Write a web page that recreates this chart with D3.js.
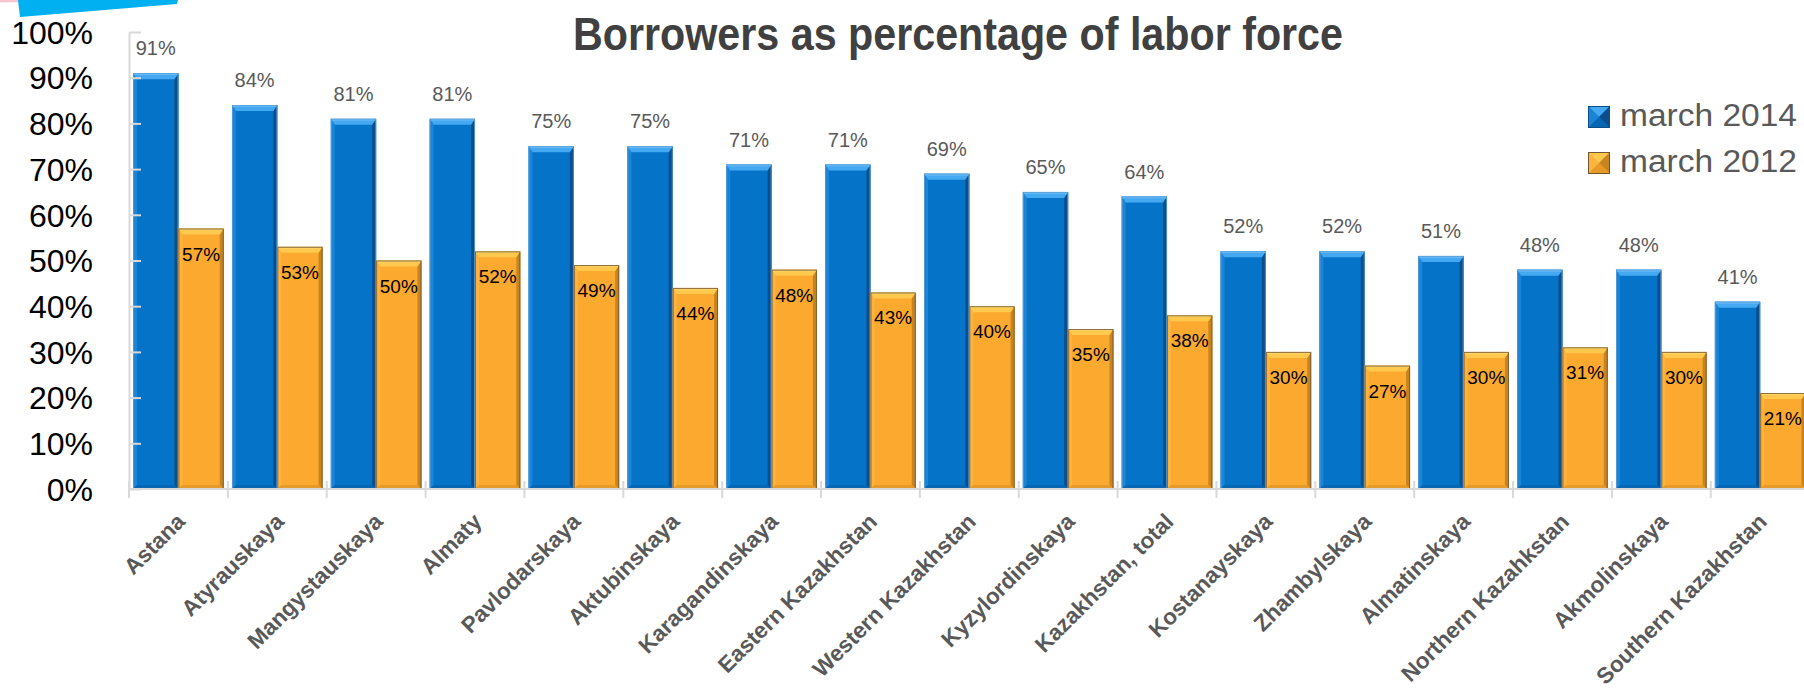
<!DOCTYPE html>
<html>
<head>
<meta charset="utf-8">
<script src="https://cdn.jsdelivr.net/npm/d3@7"></script>
<style>
  html, body { margin: 0; padding: 0; background: #fff; }
  svg { display: block; }
</style>
</head>
<body>
<svg id="chart" width="1804" height="688"></svg>
<script>
// Regions of Kazakhstan, ordered by the 2014 share
const categories = [
  "Astana", "Atyrauskaya", "Mangystauskaya", "Almaty", "Pavlodarskaya",
  "Aktubinskaya", "Karagandinskaya", "Eastern Kazakhstan", "Western Kazakhstan",
  "Kyzylordinskaya", "Kazakhstan, total", "Kostanayskaya", "Zhambylskaya",
  "Almatinskaya", "Northern Kazahkstan", "Akmolinskaya", "Southern Kazakhstan"
];
const seriesNames = ["march 2014", "march 2012"];
// Borrowers as a share of the labor force, in percent
const march2014 = [91, 84, 81, 81, 75, 75, 71, 71, 69, 65, 64, 52, 52, 51, 48, 48, 41];
const march2012 = [57, 53, 50, 52, 49, 44, 48, 43, 40, 35, 38, 30, 27, 30, 31, 30, 21];
const yTicks = [0, 10, 20, 30, 40, 50, 60, 70, 80, 90, 100];

const svg = d3.select("#chart");

// Plot frame
const plotLeft = 129, plotTop = 32, plotBottom = 489;
const step = 98.86;
const x0 = d3.scaleBand()
  .domain(categories)
  .range([plotLeft, plotLeft + step * categories.length])
  .paddingInner(0).paddingOuter(0);
const x1 = d3.scaleBand()
  .domain(seriesNames)
  .range([0, x0.bandwidth()])
  .paddingInner(0).paddingOuter(0.091);
const y = d3.scaleLinear().domain([0, 100]).range([plotBottom, plotTop]);

// Bevelled bar styles
const styles = {
  "march 2014": {
    face: "#0573C8", top: "#45A9F2", topEdge: "#6CC0FA", leftSide: "#1A84D6",
    rightSide: "#0A4F8C", bottomSide: "#0866B3", stroke: "#5E9ED6"
  },
  "march 2012": {
    face: "#FBA92F", top: "#FFC94E", topEdge: "#FFD770", leftSide: "#FDB43E",
    rightSide: "#C98422", bottomSide: "#E59A2A", stroke: "#6E5535"
  }
};

// Top-left decorative ribbon
svg.append("polygon")
  .attr("points", "0,0 55,0 55,1.5 0,2.5")
  .attr("fill", "#F7C6D0");
svg.append("polygon")
  .attr("points", "18,0 178,0 177,4 20,17")
  .attr("fill", "#00B0F0");

const rows = categories.map((c, i) => ({
  category: c,
  values: [
    { series: seriesNames[0], value: march2014[i] },
    { series: seriesNames[1], value: march2012[i] }
  ]
}));

function drawBevelBar(g, x, yTop, w, h, st) {
  const bt = Math.min(6, h / 2), bs = 4;
  g.append("rect").attr("x", x).attr("y", yTop).attr("width", w).attr("height", h)
    .attr("fill", st.face);
  // left edge
  g.append("polygon")
    .attr("points", [[x, yTop], [x + bs, yTop + bt], [x + bs, yTop + h - bs], [x, yTop + h]].join(" "))
    .attr("fill", st.leftSide);
  // right edge
  g.append("polygon")
    .attr("points", [[x + w, yTop], [x + w, yTop + h], [x + w - bs, yTop + h - bs], [x + w - bs, yTop + bt]].join(" "))
    .attr("fill", st.rightSide);
  // bottom edge
  g.append("polygon")
    .attr("points", [[x, yTop + h], [x + bs, yTop + h - bs], [x + w - bs, yTop + h - bs], [x + w, yTop + h]].join(" "))
    .attr("fill", st.bottomSide);
  // top bevel
  g.append("polygon")
    .attr("points", [[x, yTop], [x + w, yTop], [x + w - bs, yTop + bt], [x + bs, yTop + bt]].join(" "))
    .attr("fill", st.top);
  g.append("line")
    .attr("x1", x + 1).attr("x2", x + w - 1).attr("y1", yTop + 1).attr("y2", yTop + 1)
    .attr("stroke", st.topEdge).attr("stroke-width", 1.5);
  // outline
  g.append("rect").attr("x", x + 0.5).attr("y", yTop + 0.5).attr("width", w - 1).attr("height", h - 1)
    .attr("fill", "none").attr("stroke", st.stroke).attr("stroke-width", 1).attr("stroke-opacity", 0.8);
}

// Bars
const groups = svg.append("g").selectAll("g.cat")
  .data(rows).join("g").attr("class", "cat")
  .attr("transform", d => `translate(${x0(d.category)},0)`);

groups.each(function(d) {
  const g = d3.select(this);
  d.values.forEach(v => {
    const bx = x1(v.series);
    const yt = y(v.value);
    drawBevelBar(g.append("g"), bx, yt, x1.bandwidth(), plotBottom - yt, styles[v.series]);
  });
});

// Y axis: ticks point into the plot, labels on the left
const yAxis = d3.axisLeft(y)
  .tickValues(yTicks)
  .tickFormat(d => d + "%")
  .tickSizeInner(-12)
  .tickSizeOuter(0)
  .tickPadding(36);
const yg = svg.append("g").attr("transform", `translate(${plotLeft},0)`).call(yAxis);
yg.select(".domain").attr("stroke", "#D9D9D9").attr("stroke-width", 2);
yg.selectAll(".tick line").attr("stroke", "#D9D9D9").attr("stroke-width", 2);
yg.selectAll(".tick text")
  .attr("font-family", "'Liberation Sans', Arial, sans-serif")
  .attr("font-size", 32).attr("fill", "#000").attr("dy", "0.35em");

// X axis line with tick marks at category boundaries
const xg = svg.append("g");
xg.append("line")
  .attr("x1", plotLeft).attr("x2", x0.range()[1]).attr("y1", plotBottom).attr("y2", plotBottom)
  .attr("stroke", "#D9D9D9").attr("stroke-width", 2);
xg.selectAll("line.xt")
  .data(categories).join("line").attr("class", "xt")
  .attr("x1", d => x0(d)).attr("x2", d => x0(d))
  .attr("y1", plotBottom - 8).attr("y2", plotBottom + 9)
  .attr("stroke", "#D9D9D9").attr("stroke-width", 2);

// Category labels, rotated
xg.selectAll("text.cat")
  .data(categories).join("text").attr("class", "cat")
  .attr("transform", d => `translate(${x0(d) + x0.bandwidth() / 2 + 8},${plotBottom + 34}) rotate(-45)`)
  .attr("text-anchor", "end")
  .attr("font-family", "'Liberation Sans', Arial, sans-serif")
  .attr("font-weight", "bold")
  .attr("font-size", 22.5)
  .attr("fill", "#595959")
  .text(d => d);

// Value labels: 2014 above the bar, 2012 inside the top of the bar
groups.each(function(d) {
  const g = d3.select(this);
  const v14 = d.values[0], v12 = d.values[1];
  g.append("text")
    .attr("x", x1(v14.series) + x1.bandwidth() / 2)
    .attr("y", y(v14.value) - 18)
    .attr("text-anchor", "middle")
    .attr("font-family", "'Liberation Sans', Arial, sans-serif")
    .attr("font-size", 20).attr("fill", "#595959")
    .text(v14.value + "%");
  g.append("text")
    .attr("x", x1(v12.series) + x1.bandwidth() / 2)
    .attr("y", y(v12.value) + 32)
    .attr("text-anchor", "middle")
    .attr("font-family", "'Liberation Sans', Arial, sans-serif")
    .attr("font-size", 19).attr("fill", "#000")
    .text(v12.value + "%");
});

// Title
svg.append("text")
  .attr("x", 958).attr("y", 50)
  .attr("text-anchor", "middle")
  .attr("font-family", "'Liberation Sans Narrow', 'Liberation Sans', Arial, sans-serif")
  .attr("font-weight", "bold")
  .attr("font-size", 46)
  .attr("fill", "#404040")
  .attr("textLength", 770)
  .attr("lengthAdjust", "spacingAndGlyphs")
  .text("Borrowers as percentage of labor force");

// Legend
const legend = svg.append("g").attr("transform", "translate(1588,106)");
seriesNames.forEach((s, i) => {
  const st = styles[s];
  const g = legend.append("g").attr("transform", `translate(0,${i * 46})`);
  const w = 22, c = w / 2;
  g.append("rect").attr("width", w).attr("height", w).attr("fill", st.face);
  g.append("polygon").attr("points", `0,0 ${w},0 ${c},${c}`).attr("fill", st.top);
  g.append("polygon").attr("points", `0,0 ${c},${c} 0,${w}`).attr("fill", st.leftSide);
  g.append("polygon").attr("points", `${w},0 ${w},${w} ${c},${c}`).attr("fill", st.rightSide);
  g.append("polygon").attr("points", `0,${w} ${c},${c} ${w},${w}`).attr("fill", st.bottomSide);
  g.append("rect").attr("x", 0.5).attr("y", 0.5).attr("width", w - 1).attr("height", w - 1)
    .attr("fill", "none").attr("stroke", i === 0 ? "#0A4F8C" : "#6E5535").attr("stroke-width", 1);
  g.append("text")
    .attr("x", 32).attr("y", 20)
    .attr("font-family", "'Liberation Sans', Arial, sans-serif")
    .attr("font-size", 31).attr("fill", "#595959")
    .attr("textLength", 177).attr("lengthAdjust", "spacingAndGlyphs")
    .text(s);
});
</script>
</body>
</html>
